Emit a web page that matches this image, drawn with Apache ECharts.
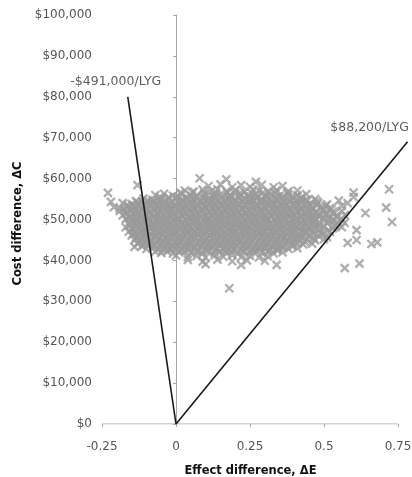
<!DOCTYPE html>
<html>
<head>
<meta charset="utf-8">
<script src="https://cdn.jsdelivr.net/npm/echarts@6/dist/echarts.min.js"></script>
<style>
  html, body { margin: 0; padding: 0; background: #fff; }
  #chart { width: 412px; height: 477px; }
</style>
</head>
<body>
<div id="chart"></div>
<script>
// Axis ticks
const effectTicks = [-0.25, 0, 0.25, 0.5, 0.75];
const costTicks = [0, 10000, 20000, 30000, 40000, 50000, 60000, 70000, 80000, 90000, 100000];
// The plot area runs a little past the last effect tick so the threshold ray can overhang it
const effectAxisEnd = 0.7838;

// Willingness-to-pay thresholds (cost per life-year gained) and the cost level where each ray ends
const thresholdLabels = ['-$491,000/LYG', '$88,200/LYG'];
const thresholdRatios = [-491000, 88200];
const thresholdEndCosts = [80000, 69000];

// Simulated [effect difference, cost difference] pairs
const simDraws = [
  [-0.23,56500],[-0.13,58400],[0.08,60100],[0.17,59800],[0.27,59200],[0.18,33200],[0.57,38100],[0.62,39200],
  [0.72,57400],[0.71,52900],[0.73,49400],[0.68,44400],[0.66,44000],[0.61,45000],[0.58,44300],
  [0.11,58200],[0.15,58600],[0.19,57900],[0.22,58400],[0.25,58000],[0.29,58500],[0.33,57900],[0.36,58200],
  [0.03,57100],[0.06,56800],[0.09,57300],[0.12,57000],[0.14,57400],[0.17,56900],[0.20,57200],[0.23,56800],
  [0.26,57300],[0.28,57000],[0.31,56800],[0.34,57200],[0.38,56900],[0.41,57100],[0.60,56600],
  [0.015,56500],[0.055,56600],[0.095,56400],[0.135,56500],[0.175,56600],[0.215,56400],[0.255,56500],[0.295,56600],
  [0.335,56400],[0.375,56500],
  [-0.07,56000],[-0.04,56300],[-0.01,55800],[0.02,56200],[0.05,56000],[0.07,55700],[0.10,56300],[0.13,55900],
  [0.15,56100],[0.18,55800],[0.20,56300],[0.22,56000],[0.25,55700],[0.27,56200],[0.30,55900],[0.32,56300],
  [0.35,55800],[0.38,56100],[0.41,55900],[0.44,56200],[0.60,55500],
  [-0.055,55500],[-0.025,55400],[0.005,55600],[0.035,55500],[0.065,55400],[0.095,55600],[0.125,55500],[0.155,55400],
  [0.185,55600],[0.215,55500],[0.245,55400],[0.275,55600],[0.305,55500],[0.335,55400],[0.365,55600],[0.395,55500],
  [0.425,55400],
  [-0.11,55100],[-0.08,54800],[-0.05,55200],[-0.03,54900],[0.00,55300],[0.02,54800],[0.04,55100],[0.06,54700],
  [0.09,55200],[0.11,54900],[0.13,55300],[0.16,54800],[0.18,55100],[0.20,54700],[0.23,55200],[0.25,54900],
  [0.27,55300],[0.29,54800],[0.32,55100],[0.34,54700],[0.36,55200],[0.39,54900],[0.42,55100],[0.44,54800],
  [0.47,55000],[0.55,54600],
  [-0.135,54500],[-0.115,54400],[-0.095,54600],[-0.075,54300],[-0.055,54700],[-0.035,54500],[-0.015,54400],[0.005,54600],
  [0.025,54300],[0.045,54700],[0.065,54500],[0.085,54400],[0.105,54600],[0.125,54300],[0.145,54700],[0.165,54500],
  [0.185,54400],[0.205,54600],[0.225,54300],[0.245,54700],[0.265,54500],[0.285,54400],[0.305,54600],[0.325,54300],
  [0.345,54700],[0.365,54500],[0.385,54400],[0.405,54600],[0.425,54300],[0.445,54700],[0.475,54500],
  [-0.22,54300],[-0.18,54000],[-0.15,53800],[-0.13,54200],[-0.10,53900],[-0.08,54300],[-0.06,53800],[-0.04,54100],
  [-0.02,53700],[0.01,54200],[0.03,53900],[0.05,54300],[0.07,53800],[0.09,54100],[0.11,53700],[0.13,54200],
  [0.15,53900],[0.17,54300],[0.19,53800],[0.21,54100],[0.23,53700],[0.25,54200],[0.27,53900],[0.29,54300],
  [0.31,53800],[0.33,54100],[0.35,53700],[0.37,54200],[0.40,53900],[0.42,54300],[0.45,53800],[0.48,54100],
  [0.51,53700],[0.58,54000],
  [-0.165,53500],[-0.145,53400],[-0.125,53600],[-0.105,53300],[-0.085,53700],[-0.065,53500],[-0.045,53400],[-0.025,53600],
  [-0.005,53300],[0.015,53700],[0.035,53500],[0.055,53400],[0.075,53600],[0.095,53300],[0.115,53700],[0.135,53500],
  [0.155,53400],[0.175,53600],[0.195,53300],[0.215,53700],[0.235,53500],[0.255,53400],[0.275,53600],[0.295,53300],
  [0.315,53700],[0.335,53500],[0.355,53400],[0.375,53600],[0.395,53300],[0.415,53700],[0.435,53500],[0.455,53400],
  [0.475,53600],[0.505,53300],
  [-0.21,53000],[-0.19,52700],[-0.16,53200],[-0.14,52800],[-0.12,53100],[-0.10,52700],[-0.08,53200],[-0.06,52900],
  [-0.04,53100],[-0.02,52800],[0.00,53200],[0.02,52700],[0.04,53100],[0.06,52800],[0.08,53200],[0.10,52900],
  [0.12,53100],[0.14,52700],[0.16,53200],[0.18,52800],[0.20,53100],[0.22,52700],[0.24,53200],[0.26,52900],
  [0.28,53100],[0.30,52800],[0.32,53200],[0.34,52700],[0.36,53100],[0.38,52800],[0.40,53200],[0.42,52900],
  [0.44,53100],[0.46,52700],[0.49,53000],[0.52,52800],[0.56,53300],
  [-0.175,52500],[-0.155,52400],[-0.135,52600],[-0.115,52300],[-0.095,52700],[-0.075,52500],[-0.055,52400],[-0.035,52600],
  [-0.015,52300],[0.005,52700],[0.025,52500],[0.045,52400],[0.065,52600],[0.085,52300],[0.105,52700],[0.125,52500],
  [0.145,52400],[0.165,52600],[0.185,52300],[0.205,52700],[0.225,52500],[0.245,52400],[0.265,52600],[0.285,52300],
  [0.305,52700],[0.325,52500],[0.345,52400],[0.365,52600],[0.385,52300],[0.405,52700],[0.425,52500],[0.445,52400],
  [0.465,52600],[0.495,52300],[0.525,52500],
  [-0.19,52100],[-0.17,51800],[-0.15,52200],[-0.13,51700],[-0.11,52100],[-0.09,51800],[-0.07,52200],[-0.05,51900],
  [-0.03,52100],[-0.01,51700],[0.01,52200],[0.03,51800],[0.05,52100],[0.07,51700],[0.09,52200],[0.11,51900],
  [0.13,52100],[0.15,51800],[0.17,52200],[0.19,51700],[0.21,52100],[0.23,51800],[0.25,52200],[0.27,51900],
  [0.29,52100],[0.31,51700],[0.33,52200],[0.35,51800],[0.37,52100],[0.39,51900],[0.41,52200],[0.43,51700],
  [0.45,52100],[0.47,51800],[0.50,52200],[0.53,51900],[0.56,52100],[0.64,51600],
  [-0.165,51500],[-0.145,51400],[-0.125,51600],[-0.105,51300],[-0.085,51700],[-0.065,51500],[-0.045,51400],[-0.025,51600],
  [-0.005,51300],[0.015,51700],[0.035,51500],[0.055,51400],[0.075,51600],[0.095,51300],[0.115,51700],[0.135,51500],
  [0.155,51400],[0.175,51600],[0.195,51300],[0.215,51700],[0.235,51500],[0.255,51400],[0.275,51600],[0.295,51300],
  [0.315,51700],[0.335,51500],[0.355,51400],[0.375,51600],[0.395,51300],[0.415,51700],[0.435,51500],[0.455,51400],
  [0.475,51600],[0.505,51300],[0.535,51500],
  [-0.18,51000],[-0.16,50700],[-0.14,51200],[-0.12,50800],[-0.10,51100],[-0.08,50700],[-0.06,51300],[-0.04,50900],
  [-0.02,51100],[0.00,50800],[0.02,51200],[0.04,50700],[0.06,51000],[0.08,51300],[0.10,50800],[0.12,51100],
  [0.14,50700],[0.16,51200],[0.18,50900],[0.20,51300],[0.22,50800],[0.24,51000],[0.26,50700],[0.28,51200],
  [0.30,50900],[0.32,51100],[0.34,50700],[0.36,51300],[0.38,50800],[0.40,51100],[0.42,50900],[0.44,51200],
  [0.46,50700],[0.48,51000],[0.51,51300],[0.54,50800],[0.57,51100],
  [-0.155,50500],[-0.135,50400],[-0.115,50600],[-0.095,50300],[-0.075,50700],[-0.055,50500],[-0.035,50400],[-0.015,50600],
  [0.005,50300],[0.025,50700],[0.045,50500],[0.065,50400],[0.085,50600],[0.105,50300],[0.125,50700],[0.145,50500],
  [0.165,50400],[0.185,50600],[0.205,50300],[0.225,50700],[0.245,50500],[0.265,50400],[0.285,50600],[0.305,50300],
  [0.325,50700],[0.345,50500],[0.365,50400],[0.385,50600],[0.405,50300],[0.425,50700],[0.445,50500],[0.465,50400],
  [0.485,50600],[0.515,50300],[0.545,50500],
  [-0.17,50100],[-0.15,49800],[-0.13,50200],[-0.11,49700],[-0.09,50000],[-0.07,50300],[-0.05,49800],[-0.03,50100],
  [-0.01,49700],[0.01,50200],[0.03,49900],[0.05,50300],[0.07,49800],[0.09,50100],[0.11,49700],[0.13,50200],
  [0.15,49900],[0.17,50300],[0.19,49800],[0.21,50000],[0.23,49700],[0.25,50200],[0.27,49900],[0.29,50300],
  [0.31,49800],[0.33,50100],[0.35,49700],[0.37,50200],[0.39,49900],[0.41,50300],[0.43,49800],[0.45,50100],
  [0.47,49700],[0.50,50200],[0.53,49900],[0.56,50100],
  [-0.155,49500],[-0.135,49600],[-0.115,49400],[-0.095,49700],[-0.075,49300],[-0.055,49500],[-0.035,49600],[-0.015,49400],
  [0.005,49700],[0.025,49300],[0.045,49500],[0.065,49600],[0.085,49400],[0.105,49700],[0.125,49300],[0.145,49500],
  [0.165,49600],[0.185,49400],[0.205,49700],[0.225,49300],[0.245,49500],[0.265,49600],[0.285,49400],[0.305,49700],
  [0.325,49300],[0.345,49500],[0.365,49600],[0.385,49400],[0.405,49700],[0.425,49300],[0.445,49500],[0.465,49600],
  [0.485,49400],[0.515,49700],[0.545,49300],
  [-0.16,48900],[-0.14,49200],[-0.12,48800],[-0.10,49100],[-0.08,48700],[-0.06,49300],[-0.04,48900],[-0.02,49200],
  [0.00,48800],[0.02,49100],[0.04,48700],[0.06,49200],[0.08,48900],[0.10,49300],[0.12,48800],[0.14,49100],
  [0.16,48700],[0.18,49200],[0.20,48900],[0.22,49300],[0.24,48800],[0.26,49100],[0.28,48700],[0.30,49200],
  [0.32,48900],[0.34,49300],[0.36,48800],[0.38,49100],[0.40,48700],[0.42,49200],[0.44,48900],[0.46,49300],
  [0.48,48800],[0.51,49100],[0.54,48700],[0.57,49200],
  [-0.155,48500],[-0.135,48600],[-0.115,48400],[-0.095,48700],[-0.075,48300],[-0.055,48500],[-0.035,48600],[-0.015,48400],
  [0.005,48700],[0.025,48300],[0.045,48500],[0.065,48600],[0.085,48400],[0.105,48700],[0.125,48300],[0.145,48500],
  [0.165,48600],[0.185,48400],[0.205,48700],[0.225,48300],[0.245,48500],[0.265,48600],[0.285,48400],[0.305,48700],
  [0.325,48300],[0.345,48500],[0.365,48600],[0.385,48400],[0.405,48700],[0.425,48300],[0.445,48500],[0.465,48600],
  [0.485,48400],[0.535,48500],
  [-0.17,48100],[-0.15,47800],[-0.13,48200],[-0.11,47700],[-0.09,48000],[-0.07,48300],[-0.05,47800],[-0.03,48100],
  [-0.01,47700],[0.01,48200],[0.03,47900],[0.05,48300],[0.07,47800],[0.09,48100],[0.11,47700],[0.13,48200],
  [0.15,47900],[0.17,48300],[0.19,47800],[0.21,48000],[0.23,47700],[0.25,48200],[0.27,47900],[0.29,48300],
  [0.31,47800],[0.33,48100],[0.35,47700],[0.37,48200],[0.39,47900],[0.41,48300],[0.43,47800],[0.45,48100],
  [0.47,47700],[0.50,48200],[0.53,47900],[0.56,48100],
  [-0.145,47500],[-0.125,47600],[-0.105,47400],[-0.085,47700],[-0.065,47300],[-0.045,47500],[-0.025,47600],[-0.005,47400],
  [0.015,47700],[0.035,47300],[0.055,47500],[0.075,47600],[0.095,47400],[0.115,47700],[0.135,47300],[0.155,47500],
  [0.175,47600],[0.195,47400],[0.215,47700],[0.235,47300],[0.255,47500],[0.275,47600],[0.295,47400],[0.315,47700],
  [0.335,47300],[0.355,47500],[0.375,47600],[0.395,47400],[0.415,47700],[0.435,47300],[0.455,47500],[0.485,47600],
  [0.515,47400],
  [-0.16,47000],[-0.14,46700],[-0.12,47200],[-0.10,46800],[-0.08,47100],[-0.06,46700],[-0.04,47300],[-0.02,46900],
  [0.00,47100],[0.02,46800],[0.04,47200],[0.06,46700],[0.08,47000],[0.10,47300],[0.12,46800],[0.14,47100],
  [0.16,46700],[0.18,47200],[0.20,46900],[0.22,47300],[0.24,46800],[0.26,47000],[0.28,46700],[0.30,47200],
  [0.32,46900],[0.34,47100],[0.36,46700],[0.38,47300],[0.40,46800],[0.42,47100],[0.44,46900],[0.46,47200],
  [0.49,46700],[0.52,47000],[0.61,47400],
  [-0.145,46500],[-0.125,46400],[-0.105,46600],[-0.085,46300],[-0.065,46700],[-0.045,46500],[-0.025,46400],[-0.005,46600],
  [0.015,46300],[0.035,46700],[0.055,46500],[0.075,46400],[0.095,46600],[0.115,46300],[0.135,46700],[0.155,46500],
  [0.175,46400],[0.195,46600],[0.215,46300],[0.235,46700],[0.255,46500],[0.275,46400],[0.295,46600],[0.315,46300],
  [0.335,46700],[0.355,46500],[0.375,46400],[0.395,46600],[0.415,46300],[0.435,46700],[0.465,46500],[0.495,46400],
  [-0.15,46100],[-0.13,45800],[-0.11,46200],[-0.09,45700],[-0.07,46000],[-0.05,46300],[-0.03,45800],[-0.01,46100],
  [0.01,45700],[0.03,46200],[0.05,45900],[0.07,46300],[0.09,45800],[0.11,46100],[0.13,45700],[0.15,46200],
  [0.17,45900],[0.19,46300],[0.21,45800],[0.23,46000],[0.25,45700],[0.27,46200],[0.29,45900],[0.31,46300],
  [0.33,45800],[0.35,46100],[0.37,45700],[0.39,46200],[0.41,45900],[0.43,46300],[0.45,45800],[0.48,46100],
  [0.51,45700],
  [-0.135,45500],[-0.115,45600],[-0.095,45400],[-0.075,45700],[-0.055,45300],[-0.035,45500],[-0.015,45600],[0.005,45400],
  [0.025,45700],[0.045,45300],[0.065,45500],[0.085,45600],[0.105,45400],[0.125,45700],[0.145,45300],[0.165,45500],
  [0.185,45600],[0.205,45400],[0.225,45700],[0.245,45300],[0.265,45500],[0.285,45600],[0.305,45400],[0.325,45700],
  [0.345,45300],[0.365,45500],[0.385,45600],[0.405,45400],[0.425,45700],[0.465,45500],
  [-0.14,45000],[-0.12,44700],[-0.10,45200],[-0.08,44800],[-0.06,45100],[-0.04,44700],[-0.02,45300],[0.00,44900],
  [0.02,45100],[0.04,44800],[0.06,45200],[0.08,44700],[0.10,45000],[0.12,45300],[0.14,44800],[0.16,45100],
  [0.18,44700],[0.20,45200],[0.22,44900],[0.24,45300],[0.26,44800],[0.28,45000],[0.30,44700],[0.32,45200],
  [0.34,44900],[0.36,45100],[0.38,44700],[0.40,45300],[0.42,44800],[0.44,45100],[0.47,44900],[0.50,45200],
  [-0.125,44500],[-0.105,44400],[-0.085,44600],[-0.065,44300],[-0.045,44700],[-0.025,44500],[-0.005,44400],[0.015,44600],
  [0.035,44300],[0.055,44700],[0.075,44500],[0.095,44400],[0.115,44600],[0.135,44300],[0.155,44700],[0.175,44500],
  [0.195,44400],[0.215,44600],[0.235,44300],[0.255,44700],[0.275,44500],[0.295,44400],[0.315,44600],[0.335,44300],
  [0.355,44700],[0.375,44500],[0.395,44400],[0.435,44600],
  [-0.13,44100],[-0.11,43800],[-0.09,44200],[-0.07,43700],[-0.05,44000],[-0.03,44300],[-0.01,43800],[0.01,44100],
  [0.03,43700],[0.05,44200],[0.07,43900],[0.09,44300],[0.11,43800],[0.13,44100],[0.15,43700],[0.17,44200],
  [0.19,43900],[0.21,44300],[0.23,43800],[0.25,44000],[0.27,43700],[0.29,44200],[0.31,43900],[0.33,44300],
  [0.35,43800],[0.37,44100],[0.39,43700],[0.41,44200],[0.43,43900],[0.46,44100],
  [-0.115,43500],[-0.095,43600],[-0.075,43400],[-0.055,43700],[-0.035,43300],[-0.015,43500],[0.005,43600],[0.025,43400],
  [0.045,43700],[0.065,43300],[0.085,43500],[0.105,43600],[0.125,43400],[0.145,43700],[0.165,43300],[0.185,43500],
  [0.205,43600],[0.225,43400],[0.245,43700],[0.265,43300],[0.285,43500],[0.305,43600],[0.325,43400],[0.345,43700],
  [0.365,43300],[0.395,43500],
  [-0.14,43300],[-0.10,42800],[-0.08,43100],[-0.06,42700],[-0.04,43200],[-0.02,42900],[0.00,43100],[0.02,42700],
  [0.04,43200],[0.06,42800],[0.08,43100],[0.10,42700],[0.12,43300],[0.14,42900],[0.16,43100],[0.18,42700],
  [0.20,43200],[0.22,42800],[0.24,43100],[0.26,42700],[0.28,43200],[0.30,42900],[0.32,43100],[0.34,42700],
  [0.36,43200],[0.38,42800],[0.41,43000],
  [-0.045,42500],[-0.015,42600],[0.015,42400],[0.045,42700],[0.075,42300],[0.105,42500],[0.135,42600],[0.165,42400],
  [0.195,42700],[0.225,42300],[0.255,42500],[0.285,42600],[0.315,42400],[0.345,42500],
  [-0.07,42100],[-0.05,41800],[-0.03,42200],[-0.01,41700],[0.01,42000],[0.03,42300],[0.05,41800],[0.07,42100],
  [0.09,41700],[0.11,42200],[0.13,41900],[0.15,42300],[0.17,41800],[0.19,42100],[0.21,41700],[0.23,42200],
  [0.25,41900],[0.27,42300],[0.29,41800],[0.31,42100],[0.33,41700],[0.36,42000],
  [0.00,41200],[0.04,40800],[0.07,41100],[0.10,40700],[0.13,41200],[0.16,40900],[0.19,41300],[0.22,40800],
  [0.25,41100],[0.28,40700],[0.31,41000],
  [0.04,40100],[0.09,39700],[0.14,40200],[0.19,39800],[0.24,40000],[0.30,39900],
  [0.10,39100],[0.22,38900],[0.34,38900]
];

// Each threshold ray runs from the origin to the point whose cost is its end cost
const rays = thresholdRatios.map((r, i) => [[0, 0], [thresholdEndCosts[i] / r, thresholdEndCosts[i]]]);
// Horizontal axis baseline, drawn only across the labelled effect range
const effectBaseline = [[effectTicks[0], 0], [effectTicks[effectTicks.length - 1], 0]];

const fmtDollar = v => '$' + Math.round(v).toLocaleString('en-US');
const tickFont = 'DejaVu Sans';
const axisGray = '#a6a6a6';
const labelOffsets = [[-12, -8], [-38, -7]];

const chart = echarts.init(document.getElementById('chart'), null, { renderer: 'canvas' });

chart.setOption({
  animation: false,
  backgroundColor: '#ffffff',
  grid: { left: 102, right: 4, top: 15, bottom: 53, containLabel: false, outerBoundsMode: 'none' },
  xAxis: {
    type: 'value',
    min: effectTicks[0],
    max: effectAxisEnd,
    name: 'Effect difference, \u0394E',
    nameLocation: 'middle',
    nameGap: 41,
    nameTextStyle: { fontFamily: tickFont, fontWeight: 'bold', fontSize: 11.5, color: '#111', padding: [0, 9, 0, 0] },
    axisLine: { show: false, onZero: false },
    axisTick: { show: true, length: 3, customValues: effectTicks, lineStyle: { color: axisGray } },
    axisLabel: { margin: 17, fontFamily: tickFont, fontSize: 12, color: '#555', customValues: effectTicks },
    splitLine: { show: false }
  },
  yAxis: [
    {
      type: 'value',
      min: costTicks[0],
      max: costTicks[costTicks.length - 1],
      interval: costTicks[1] - costTicks[0],
      position: 'left',
      name: 'Cost difference, \u0394C',
      nameLocation: 'middle',
      nameGap: 67,
      nameRotate: 90,
      nameTextStyle: { fontFamily: tickFont, fontWeight: 'bold', fontSize: 11.5, color: '#111', padding: [0, 8, 0, 0] },
      axisLine: { show: false, onZero: false },
      axisTick: { show: false },
      axisLabel: { margin: 10, fontFamily: tickFont, fontSize: 12, color: '#555', formatter: fmtDollar },
      splitLine: { show: false }
    },
    {
      type: 'value',
      min: costTicks[0],
      max: costTicks[costTicks.length - 1],
      interval: costTicks[1] - costTicks[0],
      axisLine: { show: true, onZero: true, lineStyle: { color: axisGray, width: 1 } },
      axisTick: { show: true, inside: true, length: 3, lineStyle: { color: axisGray } },
      axisLabel: { show: false },
      splitLine: { show: false }
    }
  ],
  series: [
    {
      name: 'Effect axis',
      type: 'line',
      data: effectBaseline,
      symbol: 'none',
      lineStyle: { color: axisGray, width: 1 },
      silent: true,
      z: 1
    },
    {
      name: 'Simulations',
      type: 'scatter',
      data: simDraws,
      symbol: 'path://M0,0L10,10M10,0L0,10',
      symbolSize: 8,
      itemStyle: { color: 'rgba(0,0,0,0)', borderColor: '#9a9a9a', borderWidth: 2.3 },
      silent: true,
      z: 2
    },
    ...rays.map((pts, i) => ({
      name: thresholdLabels[i],
      type: 'line',
      data: pts,
      symbol: 'none',
      lineStyle: { color: '#1a1a1a', width: 1.6 },
      silent: true,
      z: 3
    })),
    {
      name: 'Threshold labels',
      type: 'scatter',
      data: rays.map((pts, i) => ({
        value: pts[1],
        label: {
          show: true,
          formatter: thresholdLabels[i],
          position: 'top',
          distance: 0,
          offset: labelOffsets[i],
          fontFamily: tickFont,
          fontSize: 12.5,
          color: '#333'
        }
      })),
      symbolSize: 1,
      itemStyle: { color: 'rgba(0,0,0,0)' },
      silent: true,
      z: 4
    }
  ]
});
</script>
</body>
</html>
